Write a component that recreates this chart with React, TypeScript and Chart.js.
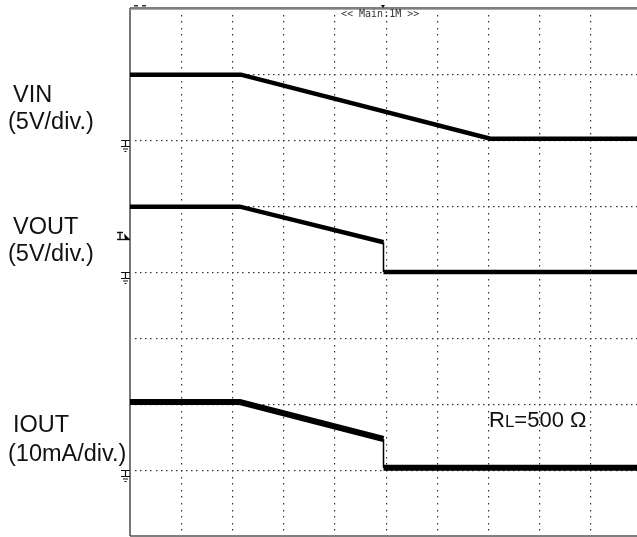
import React, { useEffect, useRef } from "react";
import { Chart, registerables } from "chart.js";

Chart.register(...registerables);

// Time axis in divisions (visible part of a 10-div screen)
const TIME_MAX = 9.92;
const V_DIVS = 8;
const GRID_X = [1, 2, 3, 4, 5, 6, 7, 8, 9];
const GRID_Y = [1, 2, 3, 4, 5, 6, 7];

// Traces (x in divisions, y in divisions from bottom)
const vinT = [0, 2.17, 7.05, 9.92];
const vinY = [6.99, 6.99, 6.02, 6.02];
const voutT = [0, 2.15, 4.96, 4.96, 9.92];
const voutY = [4.99, 4.99, 4.45, 4.0, 4.0];
const ioutT = [0, 2.15, 4.96, 4.96, 9.92];
const ioutY = [2.03, 2.03, 1.47, 1.035, 1.035];

// Channel labels / reference levels
const channelNames = ["VIN", "VOUT", "IOUT"];
const channelScales = ["(5V/div.)", "(5V/div.)", "(10mA/div.)"];
const groundLevels = [6, 4, 1];
const triggerLevel = 4.5;
const triggerTime = 4.95;
const headerText = "<< Main:1M >>";
const loadLabel = ["R", "L", "=500", "Ω"];

const FONT = '"Liberation Sans", Arial, sans-serif';

const scopePlugin = {
  id: "scope",
  beforeDatasetsDraw(chart: any) {
    const { ctx, chartArea: a, scales } = chart;
    const x = scales.x;
    const y = scales.y;
    ctx.save();
    // dotted grid
    ctx.fillStyle = "#333";
    for (const gx of GRID_X) {
      const px = Math.round(x.getPixelForValue(gx));
      for (let k = 1; k < V_DIVS * 10; k++) {
        const py = Math.round(y.getPixelForValue(k / 10));
        ctx.fillRect(px, py, 1.2, 1.5);
      }
    }
    for (const gy of GRID_Y) {
      const py = Math.round(y.getPixelForValue(gy));
      for (let k = 1; k / 10 < TIME_MAX; k++) {
        const px = Math.round(x.getPixelForValue(k / 10));
        ctx.fillRect(px, py, 1.5, 1.2);
      }
    }
    // frame
    ctx.strokeStyle = "#555";
    ctx.lineWidth = 1.6;
    ctx.beginPath();
    ctx.moveTo(a.left, a.top);
    ctx.lineTo(a.left, a.bottom);
    ctx.stroke();
    ctx.beginPath();
    ctx.moveTo(a.left, a.top);
    ctx.lineTo(a.right, a.top);
    ctx.stroke();
    ctx.beginPath();
    ctx.moveTo(a.left, a.bottom);
    ctx.lineTo(a.right, a.bottom);
    ctx.stroke();
    ctx.strokeStyle = "#aaa";
    ctx.lineWidth = 1;
    ctx.beginPath();
    ctx.moveTo(a.left, a.top + 1.5);
    ctx.lineTo(a.right, a.top + 1.5);
    ctx.stroke();
    ctx.restore();
  },
  afterDraw(chart: any) {
    const { ctx, chartArea: a, scales } = chart;
    const x = scales.x;
    const y = scales.y;
    ctx.save();
    // ground markers
    ctx.strokeStyle = "#111";
    ctx.lineWidth = 1.2;
    for (const g of groundLevels) {
      const py = Math.round(y.getPixelForValue(g)) + 0.5;
      const l = a.left - 9;
      ctx.beginPath();
      ctx.moveTo(l, py);
      ctx.lineTo(a.left, py);
      ctx.moveTo(l + 4.5, py);
      ctx.lineTo(l + 4.5, py + 6);
      ctx.moveTo(l, py + 6);
      ctx.lineTo(l + 9, py + 6);
      ctx.moveTo(l + 2, py + 8.5);
      ctx.lineTo(l + 7, py + 8.5);
      ctx.moveTo(l + 3.5, py + 11);
      ctx.lineTo(l + 5.5, py + 11);
      ctx.stroke();
    }
    // trigger level marker
    const ty = Math.round(y.getPixelForValue(triggerLevel)) + 0.5;
    ctx.fillStyle = "#000";
    ctx.lineWidth = 1.4;
    ctx.beginPath();
    ctx.moveTo(a.left - 13, ty);
    ctx.lineTo(a.left, ty);
    ctx.stroke();
    ctx.beginPath();
    ctx.moveTo(a.left - 13, ty - 7);
    ctx.lineTo(a.left - 7, ty - 7);
    ctx.moveTo(a.left - 10, ty - 7);
    ctx.lineTo(a.left - 10, ty);
    ctx.stroke();
    ctx.beginPath();
    ctx.moveTo(a.left - 6, ty - 6);
    ctx.lineTo(a.left, ty);
    ctx.lineTo(a.left - 5, ty);
    ctx.closePath();
    ctx.fill();
    // trigger position marker on top
    const tx = x.getPixelForValue(triggerTime);
    ctx.beginPath();
    ctx.moveTo(tx - 2, a.top - 3);
    ctx.lineTo(tx + 2, a.top - 3);
    ctx.lineTo(tx, a.top);
    ctx.closePath();
    ctx.fill();
    // top-left small dashes
    ctx.fillStyle = "#333";
    ctx.fillRect(a.left + 4, a.top - 3, 4, 1.5);
    ctx.fillRect(a.left + 12, a.top - 3, 4, 1.5);
    // header text
    ctx.fillStyle = "#333";
    ctx.font = '10px "DejaVu Sans Mono", monospace';
    ctx.textBaseline = "middle";
    ctx.textAlign = "left";
    ctx.fillText(headerText, 341, a.top + 6.5);
    // channel labels
    ctx.fillStyle = "#111";
    ctx.textBaseline = "alphabetic";
    ctx.font = `23.5px ${FONT}`;
    channelNames.forEach((n, i) => {
      const gp = y.getPixelForValue(groundLevels[i]);
      ctx.fillText(n, 13, gp - 38);
      ctx.fillText(channelScales[i], 8, gp - (i === 2 ? 9 : 11));
    });
    // load label
    let lx = 489;
    const lb = 427;
    ctx.font = `22px ${FONT}`;
    ctx.fillText(loadLabel[0], lx, lb);
    lx += ctx.measureText(loadLabel[0]).width;
    ctx.font = `17px ${FONT}`;
    ctx.fillText(loadLabel[1], lx, lb);
    lx += ctx.measureText(loadLabel[1]).width;
    ctx.font = `22px ${FONT}`;
    ctx.fillText(loadLabel[2], lx, lb);
    lx += ctx.measureText(loadLabel[2]).width + 6;
    ctx.fillText(loadLabel[3], lx, lb);
    ctx.restore();
  },
};

function pts(t: number[], v: number[]) {
  return t.map((tt, i) => ({ x: tt, y: v[i] }));
}

export default function App() {
  const ref = useRef<HTMLCanvasElement>(null);
  useEffect(() => {
    document.body.style.margin = "0";
    const vertical = (w: number) => (ctx: any) =>
      ctx.p0.parsed.x === ctx.p1.parsed.x ? 1.5 : w;
    const chart = new Chart(ref.current!, {
      type: "line",
      data: {
        datasets: [
          {
            label: "VIN",
            data: pts(vinT, vinY),
            borderColor: "#000",
            borderWidth: 4.5,
            pointRadius: 0,
            segment: { borderWidth: vertical(4.5) },
          },
          {
            label: "VOUT",
            data: pts(voutT, voutY),
            borderColor: "#000",
            borderWidth: 4.5,
            pointRadius: 0,
            segment: { borderWidth: vertical(4.5) },
          },
          {
            label: "IOUT",
            data: pts(ioutT, ioutY),
            borderColor: "#000",
            borderWidth: 6,
            pointRadius: 0,
            segment: { borderWidth: vertical(6) },
          },
        ],
      },
      options: {
        animation: false,
        responsive: false,
        maintainAspectRatio: false,
        layout: { padding: { left: 130, top: 8, right: 0, bottom: 1 } },
        plugins: { legend: { display: false }, tooltip: { enabled: false } },
        scales: {
          x: { type: "linear", min: 0, max: TIME_MAX, display: false },
          y: { type: "linear", min: 0, max: V_DIVS, display: false },
        },
      },
      plugins: [scopePlugin],
    });
    return () => chart.destroy();
  }, []);
  return (
    <div style={{ position: "fixed", left: 0, top: 0, width: 637, height: 537, background: "#fff" }}>
      <canvas ref={ref} width={637} height={537} />
    </div>
  );
}
